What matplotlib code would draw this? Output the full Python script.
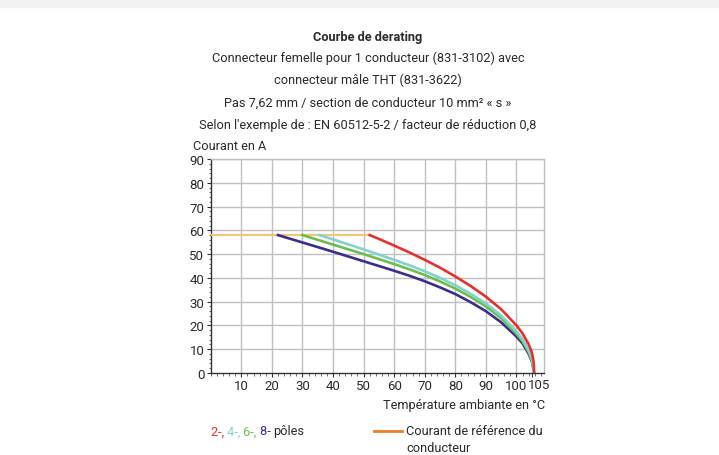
import matplotlib
matplotlib.use("Agg")
import matplotlib.pyplot as plt
from matplotlib.ticker import MultipleLocator, FixedLocator

plt.rcParams["font.family"] = ["Liberation Sans Narrow", "Roboto", "DejaVu Sans"]

# derating curves (temperature in °C, current in A)
t_2p = [52, 55, 60, 65, 70, 75, 80, 85, 90, 95, 100, 102, 104, 105, 105.5, 105.7, 105.8]
i_2p = [58, 56.4, 53.6, 50.7, 47.6, 44.3, 40.6, 36.6, 32.1, 26.8, 20, 16.6, 12, 8.8, 5.5, 3, 0]
t_4p = [35.5, 40, 50, 60, 65, 70, 75, 80, 85, 90, 95, 100, 102, 104, 105, 105.5, 105.7]
i_4p = [58, 56.2, 52, 47.6, 45.3, 42.8, 40, 36.9, 33.3, 29.2, 24.2, 17.5, 14.2, 9.5, 6, 2.5, 0]
t_6p = [30, 40, 50, 60, 65, 70, 75, 80, 85, 90, 95, 100, 102, 104, 105, 105.5, 105.7]
i_6p = [58, 54, 50, 45.8, 43.6, 41.2, 38.5, 35.5, 32, 28, 23, 16.5, 13.3, 8.8, 5.5, 2.3, 0]
t_8p = [22, 30, 40, 50, 60, 65, 70, 75, 80, 85, 90, 95, 100, 102, 104, 105, 105.5, 105.7]
i_8p = [58, 54.9, 51, 47, 43, 40.9, 38.6, 36, 33.2, 29.8, 26, 21.3, 15.3, 12.4, 8, 5, 2, 0]
t_ref = [0, 52]
i_ref = [58, 58]

x_ticks = [10, 20, 30, 40, 50, 60, 70, 80, 90, 100, 105]
y_ticks = [0, 10, 20, 30, 40, 50, 60, 70, 80, 90]

title_lines = [
    "Connecteur femelle pour 1 conducteur (831-3102) avec",
    "connecteur mâle THT (831-3622)",
    "Pas 7,62 mm / section de conducteur 10 mm² « s »",
    "Selon l'exemple de : EN 60512-5-2 / facteur de réduction 0,8",
]

RED = "#e6322b"
CYAN = "#82d2d0"
GREEN = "#6cbf4c"
BLUE = "#3a2f8e"
REF = "#f2c678"
TXT = "#2b2b2b"
FS = 9.2

W, H = 719, 456
fig = plt.figure(figsize=(W / 100, H / 100), dpi=100)
ax = fig.add_axes([210.7 / W, 1 - 374 / H, (544 - 210.7) / W, (374 - 160) / H])


def px(x, y):
    return x / W, 1 - y / H


# light band at the top of the picture
fig.patches.append(plt.Rectangle((0, 1 - 8 / H), 1, 8 / H, transform=fig.transFigure,
                                 color="#f2f2f2", zorder=0))

ax.plot(t_ref, i_ref, color=REF, lw=1.6, zorder=3)
ax.plot(t_8p, i_8p, color=BLUE, lw=1.9, zorder=4)
ax.plot(t_6p, i_6p, color=GREEN, lw=1.9, zorder=4)
ax.plot(t_4p, i_4p, color=CYAN, lw=1.9, zorder=4)
ax.plot(t_2p, i_2p, color=RED, lw=1.9, zorder=5)

ax.set_xlim(0, 109)
ax.set_ylim(0, 90)
ax.xaxis.set_major_locator(FixedLocator(x_ticks))
ax.yaxis.set_major_locator(FixedLocator(y_ticks))
ax.xaxis.set_minor_locator(MultipleLocator(2))
ax.yaxis.set_minor_locator(MultipleLocator(2))
# the last label is drawn by hand a bit to the right so it does not touch "100"
ax.set_xticklabels([str(v) for v in x_ticks[:-1]] + [""])
ax.set_yticklabels([str(v) for v in y_ticks])
ax.annotate(str(x_ticks[-1]), xy=(x_ticks[-1], 0), xycoords="data", xytext=(5.5, -3.5),
            textcoords="offset points", ha="center", va="top", fontsize=FS + 0.3, color=TXT,
            annotation_clip=False)

# grid every 10 (105 has no grid line)
for gx in range(10, 110, 10):
    ax.axvline(gx, color="#c0c0c0", lw=1.0, zorder=1)
for gy in y_ticks[1:]:
    ax.axhline(gy, color="#c0c0c0", lw=1.0, zorder=1)

for side in ["top", "right"]:
    ax.spines[side].set_color("#c0c0c0")
    ax.spines[side].set_linewidth(1.0)
for side in ["left", "bottom"]:
    ax.spines[side].set_color("#333333")
    ax.spines[side].set_linewidth(1.0)

ax.tick_params(which="major", direction="out", length=3, width=0.8, color="#333333",
               labelsize=FS + 0.3, labelcolor=TXT, pad=1.5)
ax.tick_params(which="minor", direction="out", length=1.8, width=0.6, color="#555555")

# titles
fig.text(*px(368, 38), "Courbe de derating", ha="center", va="center",
         fontsize=FS, fontweight="bold", color=TXT)
for k, line in enumerate(title_lines):
    fig.text(*px(368, 58 + k * 22.5), line, ha="center", va="center", fontsize=FS, color=TXT)
fig.text(*px(193, 146), "Courant en A", ha="left", va="center", fontsize=FS, color=TXT)
fig.text(*px(545, 405), "Température ambiante en °C", ha="right", va="center",
         fontsize=FS, color=TXT)

# legend: coloured pole counts
parts = [("2-, ", RED), ("4-, ", CYAN), ("6-, ", GREEN), ("8- ", BLUE), ("pôles", TXT)]
prev = fig.text(*px(210.7, 432), parts[0][0], ha="left", va="center", fontsize=FS,
                color=parts[0][1])
for label, col in parts[1:]:
    prev = ax.annotate(label, xy=(1, 0), xycoords=prev, ha="left", va="bottom",
                       fontsize=FS, color=col, annotation_clip=False)

fig.lines.append(plt.Line2D([374 / W, 402 / W], [1 - 432 / H, 1 - 432 / H],
                            transform=fig.transFigure, color="#f07f22", lw=2))
fig.text(*px(406.5, 432), "Courant de référence du", ha="left", va="center",
         fontsize=FS, color=TXT)
fig.text(*px(406.5, 449), "conducteur", ha="left", va="center", fontsize=FS, color=TXT)

fig.savefig("out.png", dpi=100)
